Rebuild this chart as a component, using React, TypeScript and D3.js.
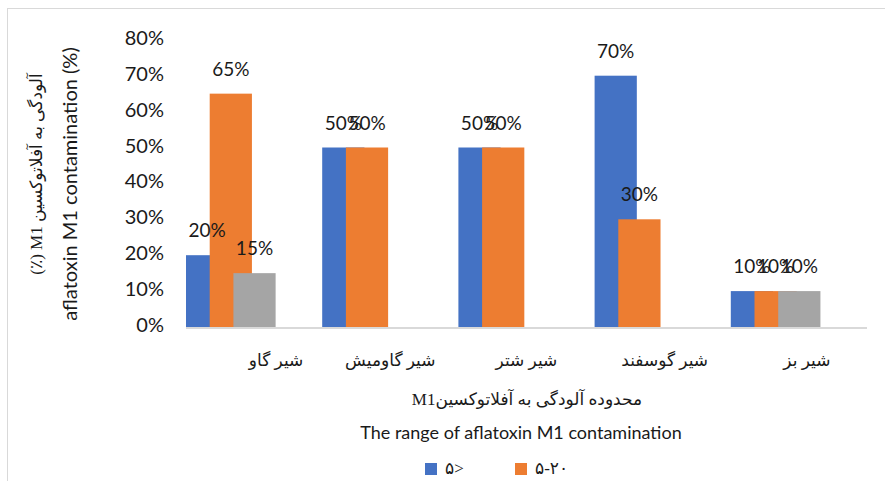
import React from "react";
import * as d3 from "d3";

const categories = ["شیر گاو", "شیر گاومیش", "شیر شتر", "شیر گوسفند", "شیر بز"];
const seriesNames = ["۵>", "۵-۲۰", "۲۰<"];
const seriesBlue = [20, 50, 50, 70, 10];
const seriesOrange = [65, 50, 50, 30, 10];
const seriesGray: (number | null)[] = [15, null, null, null, 10];
const yTicks = [0, 10, 20, 30, 40, 50, 60, 70, 80];
const colors = ["#4472C4", "#ED7D31", "#A5A5A5"];
const labelNudge = [22, 0, 0, 2, 8];

const W = 885;
const H = 481;
const latin = "Lato, 'Liberation Sans', sans-serif";
const persian = "'Liberation Serif', 'DejaVu Serif', 'DejaVu Sans', serif";

export default function App() {
  const x = d3.scaleBand<string>().domain(categories).range([186, 867]).padding(0);
  const y = d3.scaleLinear().domain([0, 80]).range([327, 39.8]);
  const bw = x.bandwidth();
  const barW = bw * 0.31;
  const step = bw * 0.174;
  const series = [seriesBlue, seriesOrange, seriesGray];

  return (
    <svg width={W} height={H} style={{ position: "absolute", left: 0, top: 0, background: "#fff" }}>
      <rect x={7.5} y={8.5} width={W + 10} height={H + 10} fill="#fff" stroke="#d9d9d9" strokeWidth={1} />
      {/* y tick labels */}
      {yTicks.map((t) => (
        <text key={t} x={164} y={y(t)} textAnchor="end" dominantBaseline="middle"
          fontFamily={latin} fontSize={20} fill="#1a1a1a">{t}%</text>
      ))}
      {/* bars */}
      {series.map((vals, si) =>
        categories.map((c, ci) => {
          const v = vals[ci];
          if (v == null) return null;
          const bx = (x(c) as number) + si * step;
          return (
            <rect key={`b${si}-${ci}`} x={bx} y={y(v)} width={barW} height={y(0) - y(v)} fill={colors[si]} />
          );
        })
      )}
      {/* data labels */}
      {series.map((vals, si) =>
        categories.map((c, ci) => {
          const v = vals[ci];
          if (v == null) return null;
          const cx = (x(c) as number) + si * step + barW / 2;
          return (
            <text key={`l${si}-${ci}`} x={cx} y={y(v) - 18} textAnchor="middle"
              fontFamily={latin} fontSize={19} fill="#1a1a1a">{v}%</text>
          );
        })
      )}
      {/* axis line */}
      <line x1={186} x2={867} y1={y(0) + 1} y2={y(0) + 1} stroke="#d9d9d9" strokeWidth={2} />
      {/* category labels */}
      {categories.map((c, i) => (
        <text key={c} x={(x(c) as number) + bw / 2 + labelNudge[i]} y={362} textAnchor="middle" dominantBaseline="middle"
          fontFamily={persian} fontSize={17} fill="#1a1a1a" style={{ direction: "rtl" }}>{c}</text>
      ))}
      {/* x titles */}
      <text x={527} y={401} textAnchor="middle" dominantBaseline="middle" fontFamily={persian} fontSize={17}
        fill="#1a1a1a" style={{ direction: "rtl" }}>محدوده آلودگی به آفلاتوکسینM1</text>
      <text x={521} y={434} textAnchor="middle" dominantBaseline="middle" fontFamily={latin} fontSize={18}
        fill="#1a1a1a">The range of aflatoxin M1 contamination</text>
      {/* y titles */}
      <text transform="translate(38,174) rotate(-90)" textAnchor="middle" dominantBaseline="middle"
        fontFamily={persian} fontSize={17} fill="#1a1a1a" style={{ direction: "rtl" }}>آلودگی به آفلاتوکسین M1 (٪)</text>
      <text transform="translate(72,184) rotate(-90)" textAnchor="middle" dominantBaseline="middle"
        fontFamily={latin} fontSize={20} fill="#1a1a1a">aflatoxin M1 contamination (%)</text>
      {/* legend */}
      {seriesNames.slice(0, 2).map((n, i) => (
        <g key={n} transform={`translate(${425 + i * 90},463)`}>
          <rect x={0} y={0} width={12} height={12} fill={colors[i]} />
          <text x={20} y={7} dominantBaseline="middle" fontFamily={persian} fontSize={17} fill="#1a1a1a">{n}</text>
        </g>
      ))}
    </svg>
  );
}
